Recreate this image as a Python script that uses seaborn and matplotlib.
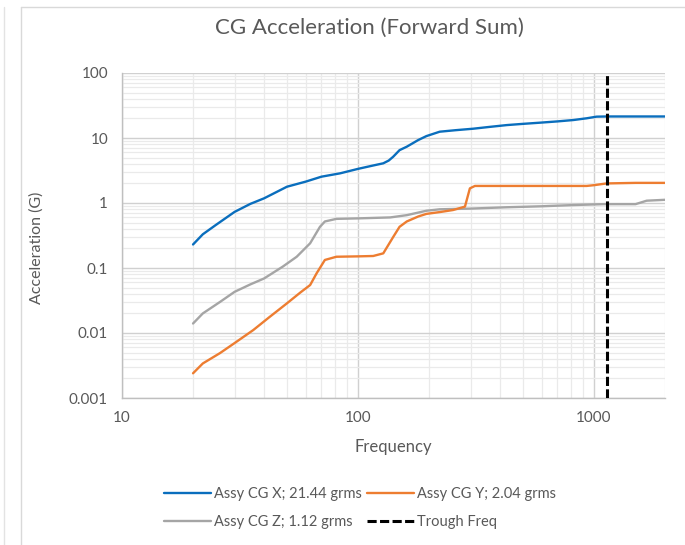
import matplotlib
matplotlib.use("Agg")
import matplotlib.pyplot as plt
from matplotlib.lines import Line2D
from matplotlib.ticker import LogLocator, FixedLocator, NullFormatter
import numpy as np
import pandas as pd
import seaborn as sns

# Cumulative (forward-summed) CG acceleration vs. frequency
freq_x = [20, 22, 25, 30, 35, 40, 50, 60, 70, 84, 100, 115, 128, 135, 141, 150,
          161, 180, 195, 222, 260, 308, 360, 427, 500, 590, 700, 818, 931, 1026,
          1135, 1500, 2000]
acc_x = [0.23, 0.33, 0.46, 0.73, 0.97, 1.18, 1.78, 2.13, 2.54, 2.86, 3.35, 3.75,
         4.08, 4.5, 5.15, 6.5, 7.35, 9.3, 10.7, 12.5, 13.2, 13.9, 14.8, 15.8,
         16.5, 17.2, 18.0, 18.9, 20.1, 21.3, 21.44, 21.44, 21.44]

freq_y = [20, 22, 26, 30, 36, 42, 50, 57, 62.7, 66.8, 72.4, 81, 100, 116, 128,
          141, 150, 161, 180, 195, 225, 253, 284, 298, 313, 400, 600, 931, 1000,
          1130, 1500, 2000]
acc_y = [0.0024, 0.0034, 0.0049, 0.0070, 0.0111, 0.0174, 0.0286, 0.042, 0.0547,
         0.083, 0.133, 0.149, 0.151, 0.153, 0.168, 0.30, 0.43, 0.52, 0.62, 0.68,
         0.73, 0.78, 0.88, 1.68, 1.83, 1.83, 1.83, 1.83, 1.88, 2.0, 2.04, 2.04]

freq_z = [20, 22, 26, 30, 35, 40, 48, 55, 62.7, 69, 72.4, 81, 100, 137, 161, 195,
          222, 300, 427, 600, 818, 1100, 1500, 1672, 2000]
acc_z = [0.014, 0.020, 0.030, 0.043, 0.056, 0.069, 0.105, 0.149, 0.24, 0.43, 0.52,
         0.57, 0.58, 0.60, 0.65, 0.76, 0.80, 0.82, 0.86, 0.89, 0.93, 0.96, 0.96,
         1.085, 1.12]

trough_freq = [1135, 1135]
trough_acc = [0.001, 100]

series_labels = ["Assy CG X; 21.44 grms", "Assy CG Y; 2.04 grms",
                 "Assy CG Z; 1.12 grms", "Trough Freq"]
series_colors = ["#0A6EBD", "#ED7D31", "#A5A5A5", "#000000"]

title_text = "CG Acceleration (Forward Sum)"
x_label = "Frequency"
y_label = "Acceleration (G)"
x_ticks = [10, 100, 1000]
x_tick_labels = ["10", "100", "1000"]
y_ticks = [0.001, 0.01, 0.1, 1, 10, 100]
y_tick_labels = ["0.001", "0.01", "0.1", "1", "10", "100"]

sns.set_theme(style="white")
plt.rcParams["font.family"] = ["Lato", "DejaVu Sans"]
text_color = "#595959"

fig = plt.figure(figsize=(6.85, 5.45), dpi=100)
ax = fig.add_axes([122 / 685, 1 - 398 / 545, (665 - 122) / 685, (398 - 73) / 545])

df_x = pd.DataFrame({"f": freq_x, "a": acc_x})
df_y = pd.DataFrame({"f": freq_y, "a": acc_y})
df_z = pd.DataFrame({"f": freq_z, "a": acc_z})
df_t = pd.DataFrame({"f": trough_freq, "a": trough_acc})

lw = 1.7
dash_lw = 2.2
dash_pattern = (3, 1.1)
sns.lineplot(data=df_x, x="f", y="a", ax=ax, color=series_colors[0], lw=lw,
             sort=False, estimator=None, zorder=4)
sns.lineplot(data=df_y, x="f", y="a", ax=ax, color=series_colors[1], lw=lw,
             sort=False, estimator=None, zorder=4)
sns.lineplot(data=df_z, x="f", y="a", ax=ax, color=series_colors[2], lw=lw,
             sort=False, estimator=None, zorder=3)
sns.lineplot(data=df_t, x="f", y="a", ax=ax, color=series_colors[3], lw=dash_lw,
             sort=False, estimator=None, zorder=5)
ax.lines[-1].set_dashes(dash_pattern)

ax.set_xscale("log")
ax.set_yscale("log")
ax.set_xlim(10, 2000)
ax.set_ylim(0.001, 100)

# Excel-style major and minor gridlines
ax.xaxis.set_major_locator(FixedLocator(x_ticks))
ax.yaxis.set_major_locator(FixedLocator(y_ticks))
ax.xaxis.set_minor_locator(LogLocator(base=10, subs=np.arange(2, 10)))
ax.yaxis.set_minor_locator(LogLocator(base=10, subs=np.arange(2, 10)))
ax.xaxis.set_minor_formatter(NullFormatter())
ax.yaxis.set_minor_formatter(NullFormatter())
ax.set_xticklabels(x_tick_labels)
ax.set_yticklabels(y_tick_labels)
ax.grid(which="major", color="#D0D0D0", lw=1.0, zorder=1)
ax.grid(which="minor", color="#EAEAEA", lw=0.9, zorder=0)
ax.set_axisbelow(True)
ax.tick_params(which="both", length=0, labelsize=11, colors=text_color)
ax.tick_params(axis="x", pad=9)
ax.tick_params(axis="y", pad=10)

for side in ["top", "right"]:
    ax.spines[side].set_visible(False)
for side in ["left", "bottom"]:
    ax.spines[side].set_color("#BFBFBF")
    ax.spines[side].set_linewidth(1.0)

ax.set_xlabel(x_label, fontsize=12, color=text_color)
ax.xaxis.set_label_coords((393 - 122) / 543, -(439 - 398) / 325)
ax.set_ylabel(y_label, fontsize=11.5, color=text_color)
ax.yaxis.set_label_coords((44 - 122) / 543, (398 - 248) / 325)

fig.text(369 / 685, 1 - 28 / 545, title_text, ha="center", va="center",
         fontsize=16, color=text_color)

# Legend below the plot
handles = [Line2D([], [], color=series_colors[0], lw=lw),
           Line2D([], [], color=series_colors[1], lw=lw),
           Line2D([], [], color=series_colors[2], lw=lw),
           Line2D([], [], color=series_colors[3], lw=dash_lw, dashes=dash_pattern)]
order = [0, 2, 1, 3]
leg = fig.legend([handles[i] for i in order], [series_labels[i] for i in order],
                 loc="center", bbox_to_anchor=(360 / 685, 1 - 508 / 545), ncol=2,
                 frameon=False, fontsize=10.5, handlelength=3.2, handletextpad=0.2,
                 columnspacing=0.35, labelspacing=1.0, borderpad=0.2)
for t in leg.get_texts():
    t.set_color(text_color)

# chart area borders
fig.add_artist(Line2D([21 / 685, 21 / 685], [0, 1 - 7 / 545], color="#D9D9D9", lw=1,
                      transform=fig.transFigure))
fig.add_artist(Line2D([21 / 685, 1], [1 - 7 / 545, 1 - 7 / 545], color="#D9D9D9",
                      lw=1, transform=fig.transFigure))
fig.add_artist(Line2D([4 / 685, 4 / 685], [0, 1 - 7 / 545], color="#E3E3E3", lw=1,
                      transform=fig.transFigure))

fig.savefig("out.png", dpi=100)
